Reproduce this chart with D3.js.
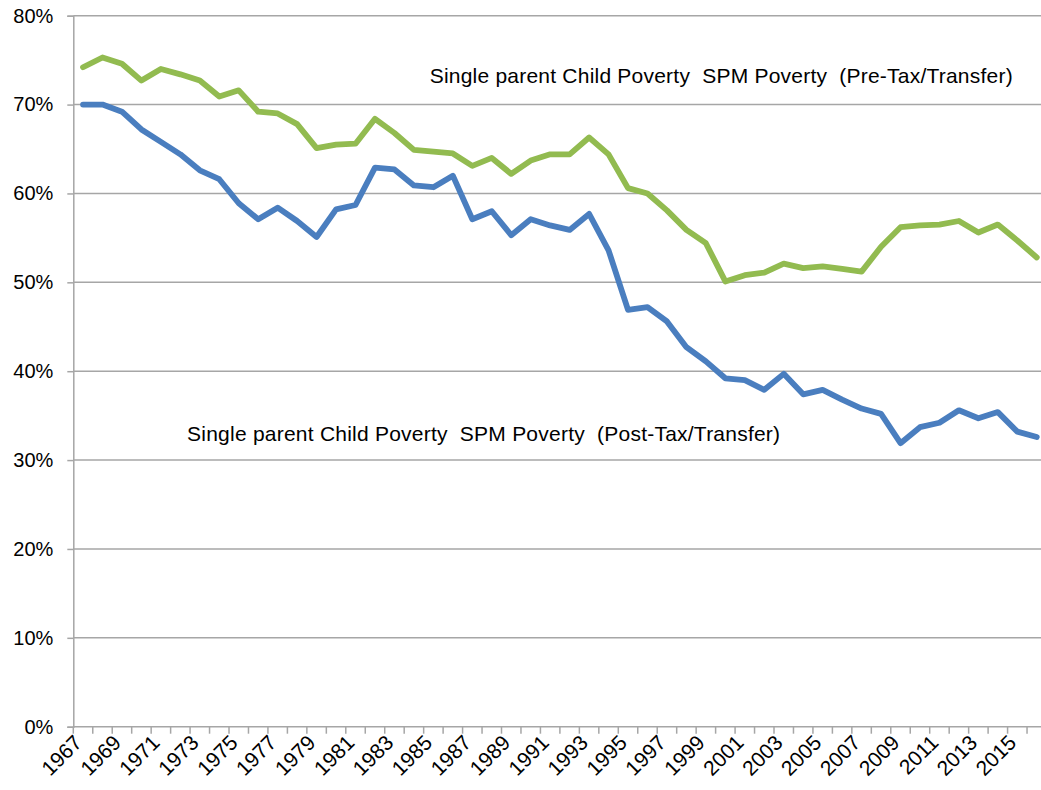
<!DOCTYPE html>
<html>
<head>
<meta charset="utf-8">
<script src="https://cdn.jsdelivr.net/npm/d3@7"></script>
<style>
  html, body { margin: 0; padding: 0; background: #fff; }
  svg { display: block; font-family: "Liberation Sans", Arial, sans-serif; }
</style>
</head>
<body>
<svg id="chart" width="1041" height="790"></svg>
<script>
// Years covered by the series
const years = d3.range(1967, 2017);

// Single-parent child poverty rate (%), SPM, before taxes and transfers
const preTax = [
  74.2, 75.3, 74.6, 72.7, 74.0, 73.4, 72.7, 70.9, 71.6, 69.2,
  69.0, 67.8, 65.1, 65.5, 65.6, 68.4, 66.8, 64.9, 64.7, 64.5,
  63.1, 64.0, 62.2, 63.7, 64.4, 64.4, 66.3, 64.4, 60.6, 60.0,
  58.1, 55.9, 54.4, 50.1, 50.8, 51.1, 52.1, 51.6, 51.8, 51.5,
  51.2, 54.0, 56.2, 56.4, 56.5, 56.9, 55.6, 56.5, 54.7, 52.8
];

// Single-parent child poverty rate (%), SPM, after taxes and transfers
const postTax = [
  70.0, 70.0, 69.2, 67.2, 65.8, 64.4, 62.6, 61.6, 58.9, 57.1,
  58.4, 56.9, 55.1, 58.2, 58.7, 62.9, 62.7, 60.9, 60.7, 62.0,
  57.1, 58.0, 55.3, 57.1, 56.4, 55.9, 57.7, 53.6, 46.9, 47.2,
  45.6, 42.7, 41.1, 39.2, 39.0, 37.9, 39.7, 37.4, 37.9, 36.8,
  35.8, 35.2, 31.9, 33.7, 34.2, 35.6, 34.7, 35.4, 33.2, 32.6
];

const yTicks = [0, 10, 20, 30, 40, 50, 60, 70, 80];
const xLabelYears = years.filter(y => (y - 1967) % 2 === 0);

const seriesLabels = [
  { text: "Single parent Child Poverty  SPM Poverty  (Pre-Tax/Transfer)", series: "pre" },
  { text: "Single parent Child Poverty  SPM Poverty  (Post-Tax/Transfer)", series: "post" }
];

const colors = { pre: "#92bb50", post: "#4a7ebf" };
const gridColor = "#a6a6a6";

const svg = d3.select("#chart");
const plot = { left: 73.3, right: 1046.5, top: 15.7, bottom: 726.7 };

const x = d3.scaleBand().domain(years).range([plot.left, plot.right]).padding(0);
const y = d3.scaleLinear().domain([0, 80]).range([plot.bottom, plot.top]);
const cx = yr => x(yr) + x.bandwidth() / 2;

// Horizontal gridlines
svg.append("g")
  .selectAll("line")
  .data(yTicks.filter(t => t > 0))
  .join("line")
  .attr("x1", plot.left).attr("x2", plot.right)
  .attr("y1", d => y(d)).attr("y2", d => y(d))
  .attr("stroke", gridColor).attr("stroke-width", 1.5);

// Y axis
const yAxis = svg.append("g")
  .attr("transform", `translate(${plot.left},0)`)
  .call(d3.axisLeft(y).tickValues(yTicks).tickSize(6).tickPadding(14).tickFormat(d => d + "%"));
yAxis.select(".domain").attr("stroke", gridColor).attr("stroke-width", 1.5);
yAxis.selectAll(".tick line").attr("stroke", gridColor).attr("stroke-width", 1.5);
yAxis.selectAll(".tick text")
  .attr("font-size", "20px").attr("fill", "#000")
  .attr("font-family", "'Liberation Sans', Arial, sans-serif");

// X axis: tick marks at band boundaries
const xAxisG = svg.append("g").attr("transform", `translate(0,${plot.bottom})`);
xAxisG.append("line")
  .attr("x1", plot.left).attr("x2", plot.right)
  .attr("stroke", gridColor).attr("stroke-width", 1.5);
xAxisG.selectAll("line.tk")
  .data(years.concat([2017]))
  .join("line")
  .attr("class", "tk")
  .attr("x1", d => d === 2017 ? plot.right : x(d))
  .attr("x2", d => d === 2017 ? plot.right : x(d))
  .attr("y1", 0).attr("y2", 7)
  .attr("stroke", gridColor).attr("stroke-width", 1.5);

// Rotated year labels
xAxisG.selectAll("text")
  .data(xLabelYears)
  .join("text")
  .attr("transform", d => `translate(${cx(d) - 5},${12}) rotate(-45)`)
  .attr("text-anchor", "end")
  .attr("dy", "0.35em")
  .attr("font-size", "21px")
  .attr("fill", "#000")
  .text(d => d);

// Series lines
const line = d3.line().x((d, i) => cx(years[i])).y(d => y(d));

svg.append("path")
  .datum(preTax)
  .attr("d", line)
  .attr("fill", "none")
  .attr("stroke", colors.pre)
  .attr("stroke-width", 5.8)
  .attr("stroke-linejoin", "round")
  .attr("stroke-linecap", "round");

svg.append("path")
  .datum(postTax)
  .attr("d", line)
  .attr("fill", "none")
  .attr("stroke", colors.post)
  .attr("stroke-width", 5.8)
  .attr("stroke-linejoin", "round")
  .attr("stroke-linecap", "round");

// Series annotations
const labelPos = {
  pre:  { year: 1985, dx: 6,  value: 72.4, width: 583 },
  post: { year: 1973, dx: -3, value: 32.1, width: 593 }
};
svg.append("g")
  .selectAll("text")
  .data(seriesLabels)
  .join("text")
  .attr("x", d => x(labelPos[d.series].year) + labelPos[d.series].dx)
  .attr("y", d => y(labelPos[d.series].value))
  .attr("font-size", "21px")
  .attr("fill", "#000")
  .attr("textLength", d => labelPos[d.series].width)
  .attr("lengthAdjust", "spacing")
  .style("white-space", "pre")
  .text(d => d.text);
</script>
</body>
</html>
